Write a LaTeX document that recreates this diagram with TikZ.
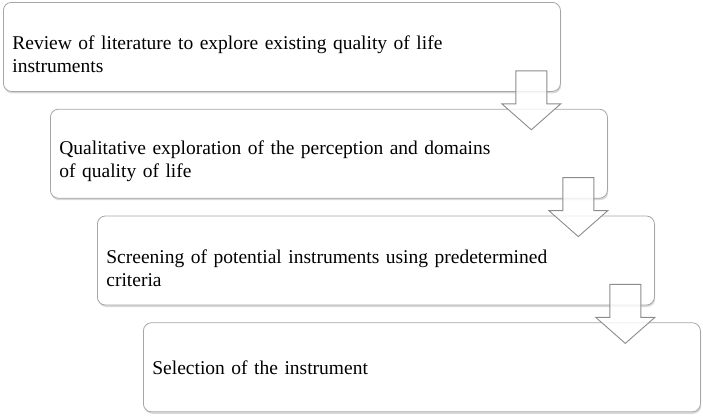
\documentclass[tikz,border=0pt]{standalone}
\usepackage{fontspec}
\setmainfont{Liberation Serif}
\usepackage{tikz}
\usetikzlibrary{positioning}
\usetikzlibrary{calc,shadows}
\newcommand{\topgap}{\rule{0pt}{29pt}}

\begin{document}
\begin{tikzpicture}[
Stepbox/.style={rectangle, rounded corners=8pt, draw=black!35, line width=0.8pt, fill=white,
  minimum width=557pt, minimum height=89pt, text width=539pt, align=left,
  font=\fontsize{19.5}{23}\selectfont,
  drop shadow={opacity=0.3, shadow xshift=0.8pt, shadow yshift=-2pt}},
Downarrow/.style={draw=black!45, line width=0.9pt, fill=white, fill opacity=0.8, line join=miter}
]
\useasboundingbox (0,0) rectangle (703pt,-415pt);
%Nodes
\node[Stepbox, anchor=north west] (B1) at (3pt,-2pt) {\topgap Review of literature to explore existing quality of life\\ instruments};
\node[Stepbox] (B2) [below right=17pt and 47pt of B1.south west] {\topgap Qualitative exploration of the perception and domains\\ of quality of life};
\node[Stepbox] (B3) [below right=17pt and 47pt of B2.south west] {\topgap Screening of potential instruments using predetermined\\ criteria};
\node[Stepbox] (B4) [below right=17pt and 46pt of B3.south west] {Selection of the instrument};

%Arrows
\draw[Downarrow] ($(B1.south east)+(-45pt,21pt)$) -- ++(31pt,0) -- ++(0,-33pt) -- ++(14pt,0) -- ++(-29.5pt,-26pt) -- ++(-29.5pt,26pt) -- ++(14pt,0) -- cycle;
\draw[Downarrow] ($(B2.south east)+(-45pt,21pt)$) -- ++(31pt,0) -- ++(0,-33pt) -- ++(14pt,0) -- ++(-29.5pt,-26pt) -- ++(-29.5pt,26pt) -- ++(14pt,0) -- cycle;
\draw[Downarrow] ($(B3.south east)+(-45pt,21pt)$) -- ++(31pt,0) -- ++(0,-33pt) -- ++(14pt,0) -- ++(-29.5pt,-26pt) -- ++(-29.5pt,26pt) -- ++(14pt,0) -- cycle;
\end{tikzpicture}
\end{document}
